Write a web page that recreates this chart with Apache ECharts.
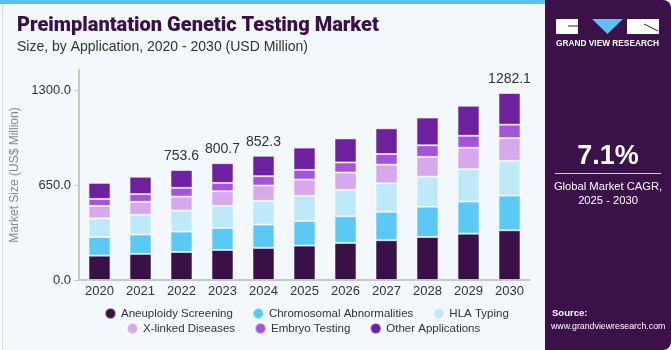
<!DOCTYPE html>
<html>
<head>
<meta charset="utf-8">
<script src="https://cdn.jsdelivr.net/npm/echarts@6/dist/echarts.min.js"></script>
<style>
  html, body { margin: 0; padding: 0; background: #fff; }
  #chart { width: 671px; height: 350px; }
</style>
</head>
<body>
<div id="chart"></div>
<script>
const years = ['2020', '2021', '2022', '2023', '2024', '2025', '2026', '2027', '2028', '2029', '2030']
const aneuploidy = [167, 179, 192, 206, 220, 236, 254, 273, 295, 318, 341]
const chromosomal = [128, 133, 140, 151, 160, 169, 183, 195, 208, 220, 238]
const hlaTyping = [128, 135, 144, 151, 163, 172, 181, 195, 206, 222, 238]
const xLinked = [85, 89, 96, 101, 105, 112, 119, 128, 135, 147, 156]
const embryo = [48, 53, 60, 57, 64, 66, 69, 73, 80, 82, 92]
const other = [110, 119, 122, 135, 140, 153, 165, 176, 190, 206, 217]
// totals shown above a few bars
const totalLabels = ['', '', '753.6', '800.7', '852.3', '', '', '', '', '', '1282.1']
const yTicks = [0, 650, 1300]

const seriesDefs = [
  { name: 'Aneuploidy Screening', data: aneuploidy, color: '#3a1048' },
  { name: 'Chromosomal Abnormalities', data: chromosomal, color: '#5bc9f5' },
  { name: 'HLA Typing', data: hlaTyping, color: '#bde9f9' },
  { name: 'X-linked Diseases', data: xLinked, color: '#d5a9ec' },
  { name: 'Embryo Testing', data: embryo, color: '#a454d8' },
  { name: 'Other Applications', data: other, color: '#6f209e' }
]

const font = "'Liberation Sans', Arial, sans-serif"
const panelColor = '#3a1249'

const chart = echarts.init(document.getElementById('chart'))

const series = seriesDefs.map((s, i) => ({
  name: s.name,
  type: 'bar',
  stack: 'total',
  data: s.data,
  barWidth: 22,
  itemStyle: {
    color: s.color,
    borderColor: 'rgba(255,255,255,0.55)',
    borderWidth: 1
  },
  label: i === seriesDefs.length - 1 ? {
    show: true,
    position: 'top',
    distance: 7,
    color: '#333',
    fontSize: 14,
    fontFamily: font,
    formatter: (p) => totalLabels[p.dataIndex]
  } : { show: false }
}))

const legendBase = {
  icon: 'circle',
  itemWidth: 11,
  itemHeight: 11,
  itemGap: 19,
  padding: 0,
  textStyle: { color: '#333', fontSize: 11.5, fontFamily: font },
  selectedMode: false
}

chart.setOption({
  backgroundColor: '#f3f8fc',
  animation: false,
  grid: {
    left: 79,
    right: 141,
    top: 70,
    bottom: 70,
    containLabel: false
  },
  legend: [
    Object.assign({}, legendBase, {
      top: 307,
      left: 104,
      data: seriesDefs.slice(0, 3).map(s => s.name)
    }),
    Object.assign({}, legendBase, {
      top: 322,
      left: 126,
      data: seriesDefs.slice(3).map(s => s.name)
    })
  ],
  xAxis: {
    type: 'category',
    data: years,
    axisLine: { lineStyle: { color: '#c8c8c8', width: 2 } },
    axisTick: { show: false },
    axisLabel: { color: '#333', fontSize: 13, fontFamily: font, margin: 5 }
  },
  yAxis: {
    type: 'value',
    min: 0,
    max: 1440,
    interval: 650,
    name: 'Market Size (US$ Million)',
    nameLocation: 'middle',
    nameGap: 46,
    nameTextStyle: { color: '#888', fontSize: 12, fontFamily: font },
    axisLine: { show: true, lineStyle: { color: '#c8c8c8', width: 2 } },
    axisTick: { show: true, length: 5, lineStyle: { color: '#c8c8c8' } },
    splitLine: { show: false },
    axisLabel: {
      color: '#333',
      fontSize: 13,
      fontFamily: font,
      margin: 8,
      showMaxLabel: false,
      formatter: (v) => yTicks.includes(v) ? v.toFixed(1) : ''
    }
  },
  series: series,
  graphic: [
    { type: 'rect', left: 0, top: 0, shape: { width: 670, height: 349 }, style: { fill: 'none', stroke: '#d9dde2', lineWidth: 1 }, z: -1 },
    { type: 'rect', left: 0, top: 0, shape: { width: 548, height: 4 }, style: { fill: '#5bc4ee' } },
    { type: 'text', left: 17, top: 16, style: { text: 'Preimplantation Genetic Testing Market', fill: '#3a1048', font: "900 20px 'Roboto', 'Liberation Sans', Arial, sans-serif" } },
    { type: 'text', left: 17, top: 40, style: { text: 'Size, by Application, 2020 - 2030 (USD Million)', fill: '#333', font: "14px 'Liberation Sans', Arial, sans-serif" } },
    // right panel
    { type: 'rect', left: 545, top: 0, shape: { width: 126, height: 350, r: [0, 8, 8, 0] }, style: { fill: panelColor } },
    { type: 'rect', left: 556, top: 19, shape: { width: 22, height: 15 }, style: { fill: '#fff' } },
    { type: 'polyline', shape: { points: [[568, 26], [578, 26]] }, style: { stroke: panelColor, lineWidth: 1 } },
    { type: 'polygon', shape: { points: [[592, 19], [623, 19], [607.5, 34]] }, style: { fill: '#5bc4ee' } },
    { type: 'rect', left: 627, top: 19, shape: { width: 32, height: 15 }, style: { fill: '#fff' } },
    { type: 'polyline', shape: { points: [[644, 24], [658, 31]] }, style: { stroke: panelColor, lineWidth: 1 } },
    { type: 'text', x: 607.5, y: 44, style: { text: 'GRAND VIEW RESEARCH', fill: '#fff', align: 'center', verticalAlign: 'middle', font: "bold 8.3px 'Liberation Sans', Arial, sans-serif" } },
    { type: 'text', x: 608, y: 157, style: { text: '7.1%', fill: '#fff', align: 'center', verticalAlign: 'middle', font: "bold 27px 'Liberation Sans', Arial, sans-serif" } },
    { type: 'rect', left: 555, top: 173, shape: { width: 106, height: 1 }, style: { fill: '#cfc6d6' } },
    { type: 'text', x: 608, y: 187, style: { text: 'Global Market CAGR,', fill: '#fff', align: 'center', verticalAlign: 'middle', font: "11.2px 'Liberation Sans', Arial, sans-serif" } },
    { type: 'text', x: 608, y: 201, style: { text: '2025 - 2030', fill: '#fff', align: 'center', verticalAlign: 'middle', font: "11.2px 'Liberation Sans', Arial, sans-serif" } },
    { type: 'text', left: 552, top: 308, style: { text: 'Source:', fill: '#fff', font: "bold 9.5px 'Liberation Sans', Arial, sans-serif" } },
    { type: 'text', left: 551, top: 322, style: { text: 'www.grandviewresearch.com', fill: '#fff', font: "8.8px 'Liberation Sans', Arial, sans-serif" } }
  ]
})

window.addEventListener('resize', () => chart.resize())
</script>
</body>
</html>
